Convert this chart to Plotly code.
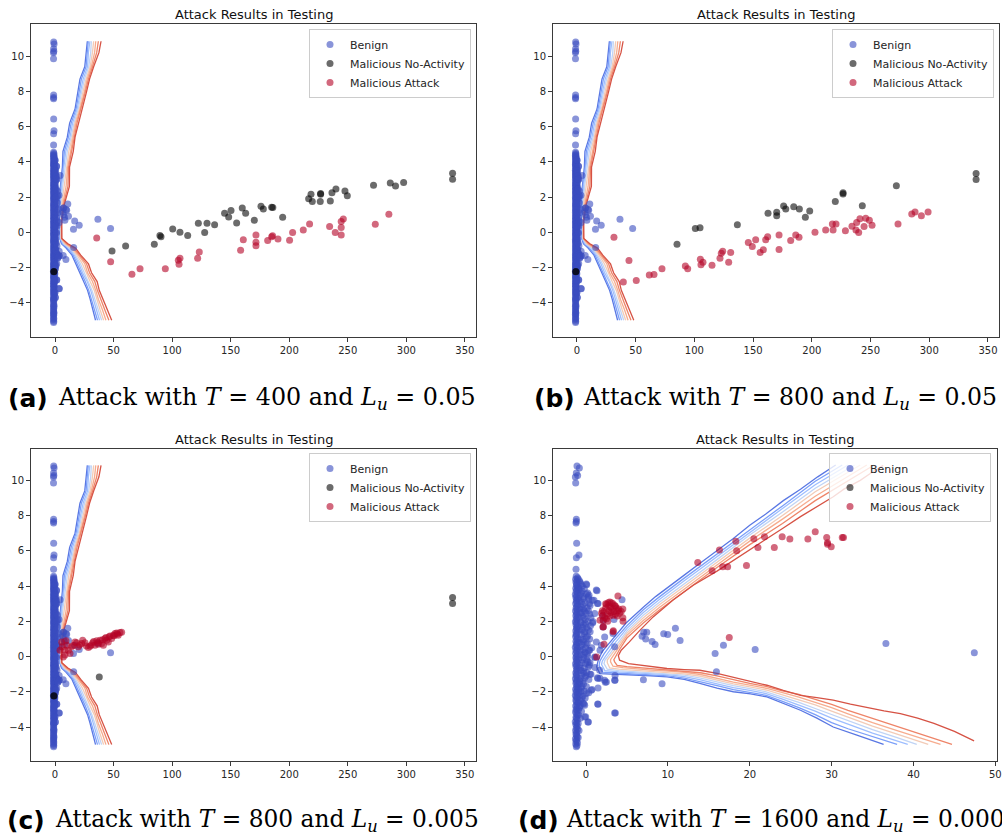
import plotly.graph_objects as go

W, H = 1002, 838

# ------------------------------------------------------------------ data
# benign test samples (identical in all four panels)
benign_core_y = [-5.12, -5.05, -4.96, -4.9, -4.81, -4.72, -4.66, -4.55, -4.47, -4.4,
                 -4.31, -4.2, -4.13, -4.05, -3.94, -3.86, -3.78, -3.7, -3.59, -3.5,
                 -3.44, -3.33, -3.26, -3.15, -3.08, -2.99, -2.9, -2.81, -2.73, -2.62,
                 -2.55, -2.47, -2.36, -2.3, -2.21, -2.12, -2.03, -1.95, -1.86, -1.77,
                 -1.7, -1.6, -1.52, -1.43, -1.35, -1.26, -1.18, -1.09, -1.0, -0.92,
                 -0.83, -0.75, -0.66, -0.57, -0.5, -0.41, -0.33, -0.24, -0.15, -0.07,
                 0.02, 0.1, 0.19, 0.28, 0.36, 0.44, 0.53, 0.61, 0.7, 0.79,
                 0.87, 0.96, 1.04, 1.13, 1.21, 1.3, 1.38, 1.47, 1.56, 1.64,
                 1.72, 1.81, 1.9, 1.98, 2.07, 2.15, 2.24, 2.32, 2.41, 2.5,
                 2.58, 2.67, 2.75, 2.84, 2.92, 3.01, 3.1, 3.18, 3.27, 3.35,
                 3.44, 3.52, 3.61, 3.7, 3.78, 3.87, 3.95, 4.04, 4.12, 4.21,
                 4.3, 4.38, 4.47, 4.55]
benign_core_x = [-1.18, -1.10, -1.25, -1.05, -1.21, -1.13, -1.29, -1.08, -1.16, -1.23,
                 -1.12, -1.27, -1.02, -1.19, -1.09, -1.24, -1.14, -1.31, -1.06, -1.17,
                 -1.22, -1.04, -1.15, -1.28, -1.11, -1.20, -1.07, -1.26, -1.13, -1.01,
                 -1.19, -1.24, -1.09, -1.16, -1.30, -1.05, -1.21, -1.12, -1.27, -1.08,
                 -1.15, -1.03, -1.23, -1.18, -1.10, -1.29, -1.06, -1.20, -1.14, -1.25,
                 -1.09, -1.17, -1.02, -1.22, -1.13, -1.28, -1.07, -1.19, -1.11, -1.24,
                 -1.16, -1.04, -1.26, -1.10, -1.21, -1.05, -1.30, -1.14, -1.18, -1.08,
                 -1.23, -1.12, -1.01, -1.27, -1.15, -1.20, -1.06, -1.25, -1.11, -1.17,
                 -1.03, -1.22, -1.13, -1.29, -1.09, -1.19, -1.05, -1.24, -1.16, -1.10,
                 -1.28, -1.07, -1.21, -1.14, -1.02, -1.26, -1.12, -1.18, -1.08, -1.23,
                 -1.15, -1.30, -1.04, -1.20, -1.11, -1.25, -1.06, -1.17, -1.13, -1.22,
                 -1.09, -1.27, -1.03, -1.19, -1.14, -1.24, -1.07, -1.21, -1.16, -1.10]
benign_halo = [(-0.8, 4.3), (-0.6, 4.1), (-0.9, 3.9), (-0.5, 3.7), (-0.7, 3.5), (-0.3, 3.3),
               (-0.8, 3.15), (-0.4, 2.95), (-0.6, 2.8), (-0.2, 2.6), (-0.7, 2.45), (-0.4, 2.3),
               (-0.1, 2.1), (-0.6, 1.95), (-0.3, 1.8), (0.1, 1.65), (-0.5, 1.5), (-0.2, 1.3),
               (0.2, 1.15), (-0.6, 1.0), (-0.3, 0.85), (0.0, 0.7), (-0.7, 0.55), (-0.4, 0.4),
               (-0.1, 0.25), (-0.6, 0.1), (-0.3, -0.05), (0.1, -0.2), (-0.5, -0.35), (-0.8, -0.5),
               (-0.2, -0.65), (-0.6, -0.8), (-0.3, -0.95), (0.0, -1.1), (-0.7, -1.25), (-0.4, -1.4),
               (-0.8, -1.55), (-0.5, -1.7), (-0.9, -1.85), (-0.6, -2.0), (-0.8, -2.2), (-0.5, -2.4),
               (-0.9, -2.6), (-0.7, -2.8), (-0.9, -3.0), (0.4, 3.0), (0.6, 2.2), (0.5, 1.4),
               (0.7, 0.5), (0.4, -0.5), (0.6, -1.0), (0.3, 2.6), (0.8, 1.9), (0.2, 3.6),
               (-0.95, 4.4), (-0.7, 4.2), (-0.45, 4.0), (-0.85, 3.8), (-0.2, 3.85), (-0.6, 3.6),
               (0.05, 3.55), (-0.35, 3.4), (-0.9, 3.3), (0.3, 3.25), (-0.55, 3.1), (-0.1, 3.05),
               (0.5, 2.9), (-0.75, 2.7), (-0.3, 2.7), (0.15, 2.75), (-0.5, 2.5), (0.0, 2.45),
               (0.45, 2.4), (-0.85, 2.25), (-0.25, 2.2), (0.25, 2.0), (-0.6, 1.9), (-0.05, 1.85),
               (0.55, 1.75), (-0.4, 1.65), (-0.85, 1.55), (0.3, 1.5), (-0.15, 1.4), (-0.55, 1.25),
               (0.05, 1.1), (0.45, 1.0), (-0.35, 0.95), (-0.8, 0.8), (0.15, 0.75), (-0.5, 0.65),
               (-0.05, 0.5), (0.35, 0.35), (-0.7, 0.3), (-0.25, 0.15), (-0.85, -0.1), (0.2, 0.0),
               (-0.45, -0.2), (-0.05, -0.4), (0.3, -0.6), (-0.7, -0.65), (-0.3, -0.85), (0.1, -0.9),
               (-0.55, -1.05), (-0.15, -1.2), (0.35, -1.3), (-0.75, -1.4), (-0.3, -1.55), (0.05, -1.7),
               (-0.6, -1.8), (-0.2, -1.95), (-0.85, -2.05), (-0.4, -2.25), (-0.1, -2.35), (-0.7, -2.5),
               (-0.35, -2.65), (-0.8, -2.9), (-0.55, -3.1), (-0.9, -3.3), (-0.7, -3.5), (-0.95, -3.8),
               (-0.85, -4.2), (-0.95, -4.6)]
benign_outliers = [(-1.10, 10.81), (-0.81, 10.70), (-1.18, 10.42), (-1.30, 10.19), (-1.02, 10.28),
                   (-1.26, 9.85), (-1.18, 7.79), (-1.18, 7.66), (-1.22, 7.58), (-1.14, 6.43),
                   (-1.18, 5.60), (-0.86, 5.77), (-1.22, 4.95), (0.08, 4.08), (1.34, 3.74),
                   (0.98, 3.19), (1.39, 3.01), (0.29, 3.38), (4.40, 3.23), (3.42, 2.10),
                   (2.12, 2.06), (7.05, 1.38), (7.42, 1.38), (6.85, 1.15), (7.29, 1.00),
                   (8.07, 0.85), (8.44, 0.68), (9.49, 1.29), (9.98, 1.25), (10.92, 1.61),
                   (11.49, 0.91), (15.77, 0.17), (16.79, 0.64), (20.66, 0.40), (36.63, 0.74),
                   (47.43, 0.21), (15.93, -0.87), (7.01, -1.32), (9.29, -1.55), (2.36, -1.46),
                   (3.55, -1.34), (3.55, -1.08), (1.71, -1.23), (1.39, -1.21), (1.47, -1.78),
                   (0.73, -1.87), (0.33, -2.06), (1.43, -2.70), (-0.24, -2.70), (3.59, -3.21),
                   (-0.04, -3.42), (0.29, -3.71), (1.71, 0.36), (1.10, -0.06), (0.49, -0.36),
                   (1.10, -0.62), (0.49, -1.0), (0.16, 0.17), (0.04, 4.11), (1.26, 3.77),
                   (0.37, 3.48), (0.77, 3.2), (1.47, 3.01), (1.06, 2.44), (2.08, 2.35),
                   (0.86, 1.97), (2.08, 1.68), (2.28, 1.11), (1.26, 0.83), (1.87, 0.64),
                   (0.45, 0.36), (1.06, -0.02), (0.24, -0.31), (1.67, -0.78), (1.47, -1.25),
                   (2.28, -1.35), (3.5, -1.35), (2.49, -1.44), (0.65, -1.91), (0.04, -2.10),
                   (1.47, -2.71), (-0.16, -2.77), (3.5, -3.2), (-0.16, -3.43), (0.24, -3.71),
                   (3.3, 1.31), (3.5, 0.55)]

# malicious no-activity samples
noact_a = [(339.5, 3.35), (339.5, 3.01), (297.7, 2.82), (290.8, 2.63), (286.3, 2.80), (272.0, 2.67),
           (249.6, 2.08), (247.6, 2.35), (239.9, 2.46), (236.5, 2.25), (235.1, 1.78), (226.8, 2.2),
           (226.8, 2.16), (226.5, 1.74), (219.7, 1.74), (218.6, 2.16), (216.6, 1.91), (194.4, 0.85),
           (186.0, 1.40), (185.0, 1.42), (177.9, 1.32), (175.9, 1.48), (170.2, 0.68), (162.8, 1.08),
           (159.9, 1.38), (155.1, 0.53), (150.3, 1.23), (148.3, 0.87), (144.8, 1.08), (136.3, 0.42),
           (129.8, 0.51), (127.8, -0.02), (122.4, 0.51), (113.3, -0.19), (106.7, 0.0), (100.5, 0.19),
           (90.5, -0.25), (89.6, -0.19), (84.8, -0.68), (60.3, -0.78), (48.7, -1.06),
           (-1.0, -2.23), (-0.9, -2.25)]
noact_b = [(339.9, 3.34), (339.9, 3.0), (272.0, 2.64), (226.6, 2.17), (226.6, 2.25), (220.0, 1.74),
           (243.0, 1.51), (198.2, 1.21), (194.5, 0.85), (189.4, 1.32), (184.6, 1.45), (177.8, 1.32),
           (176.0, 1.49), (170.1, 1.13), (170.1, 0.94), (162.7, 1.08), (136.6, 0.42), (104.8, 0.25),
           (100.8, 0.21), (85.2, -0.68), (-1.0, -2.23), (-0.9, -2.25)]
noact_c = [(339.5, 3.35), (339.5, 3.01), (37.8, -1.16), (-1.0, -2.22), (-0.9, -2.24)]
noact_d = [(340.0, 3.35), (340.0, 3.01)]

# malicious attack samples
attack_a = [(285.1, 1.02), (273.5, 0.45), (246.2, 0.76), (244.4, 0.61), (244.4, 0.27), (244.4, -0.15),
            (239.3, -0.02), (234.5, 0.32), (217.4, 0.47), (212.0, 0.13), (202.9, -0.02), (200.3, -0.45),
            (190.4, -0.38), (185.8, -0.2), (185.0, -0.26), (181.6, -0.47), (171.6, -0.15), (171.6, -0.57),
            (171.6, -0.76), (160.8, -0.42), (158.5, -1.02), (123.2, -1.12), (121.8, -1.48), (106.7, -1.48),
            (105.9, -1.82), (105.3, -1.59), (94.2, -2.08), (72.6, -2.08), (65.7, -2.39), (47.5, -1.68),
            (35.6, -0.32)]
attack_b = [(299.0, 1.15), (293.3, 0.94), (287.9, 1.15), (285.1, 1.04), (273.4, 0.47), (251.3, 0.40),
            (249.0, 0.68), (245.9, 0.79), (244.5, 0.32), (241.0, 0.77), (239.9, -0.02), (237.6, 0.13),
            (238.2, 0.55), (234.2, 0.34), (228.6, 0.08), (220.6, 0.47), (217.5, 0.47), (218.1, 0.13),
            (211.8, 0.13), (202.7, 0.0), (189.1, -0.28), (186.3, -0.15), (182.0, -0.47), (172.1, -0.15),
            (172.1, -0.98), (162.4, -0.25), (160.7, -0.42), (158.7, -1.0), (156.0, -1.15), (152.2, -0.43),
            (149.3, -0.81), (145.9, -0.58), (130.9, -1.15), (129.2, -1.70), (124.1, -1.08), (122.9, -1.19),
            (121.8, -1.47), (115.0, -1.87), (107.3, -1.70), (105.6, -1.85), (105.1, -1.53), (94.3, -2.08),
            (92.3, -1.92), (72.4, -2.08), (65.6, -2.40), (61.6, -2.43), (50.5, -2.74), (39.5, -2.83),
            (44.3, -1.60), (31.5, -0.28)]
attack_c = [(7.1, -0.02), (8.5, 0.36), (10.0, 0.64), (12.8, 0.17), (14.2, 0.55), (17.1, 0.83),
            (19.9, 0.55), (22.8, 0.74), (23.6, 0.93), (28.5, 0.51), (32.2, 0.78), (34.1, 0.64),
            (35.6, 0.89), (38.4, 0.93), (39.8, 0.74), (42.7, 1.02), (44.1, 0.93), (47.0, 1.16),
            (48.4, 1.02), (49.8, 1.21), (51.2, 1.31), (52.6, 1.34), (55.5, 1.36), (56.9, 1.38),
            (54.0, 1.21), (45.5, 0.83), (41.3, 0.64), (37.0, 0.70), (29.9, 0.59), (4.3, 0.36),
            (5.7, 0.83), (11.4, 0.36), (18.5, 0.78), (25.6, 0.78), (8.5, 0.08), (6.2, 0.55),
            (9.3, 0.9), (15.5, 0.62), (21.0, 0.66), (26.8, 0.6), (33.0, 0.85), (36.5, 0.8),
            (40.5, 0.95), (43.5, 1.08), (46.2, 1.12), (50.5, 1.18), (53.3, 1.28), (31.0, 0.66)]
attack_d = [(2.0, 2.3), (2.2, 2.55), (2.4, 2.75), (2.5, 2.95), (2.7, 3.05), (2.9, 3.1), (3.1, 3.05),
            (3.3, 3.0), (3.5, 2.9), (3.7, 2.75), (3.9, 2.6), (4.1, 2.45), (2.3, 2.2), (2.6, 2.4),
            (2.8, 2.6), (3.0, 2.8), (3.2, 2.7), (3.4, 2.55), (3.6, 2.4), (3.8, 2.3), (2.1, 2.05),
            (2.5, 2.15), (2.9, 2.3), (3.3, 2.35), (2.0, 2.6), (2.4, 3.0), (2.8, 2.85), (3.6, 2.85),
            (4.0, 2.7), (4.3, 2.55), (4.5, 2.7), (3.9, 3.43), (4.52, 2.0), (1.71, 2.06), (2.12, 1.69),
            (3.34, 1.46), (2.2, 0.70), (1.3, -0.02), (3.3, 1.4), (2.08, 1.68), (4.5, 2.2), (1.9, 2.45),
            (3.05, 2.5), (2.65, 2.0),
            (31.3, 6.76), (31.45, 6.76), (29.95, 6.23), (29.5, 6.46), (29.5, 6.38), (29.4, 6.76),
            (28.0, 7.08), (27.1, 6.67), (24.9, 6.67), (23.96, 6.80), (23.0, 6.19), (21.8, 6.80),
            (21.0, 6.19), (20.5, 6.69), (19.6, 5.17), (18.4, 6.0), (18.3, 6.55), (17.3, 5.09),
            (16.7, 5.09), (16.3, 6.04), (15.4, 4.87), (13.65, 5.34), (17.5, 1.08)]

# decision-boundary contour lines, panels (a)-(c), sampled at shared y levels
contour_abc_y = [10.85, 10.2, 9.4, 8.7, 8.0, 7.0, 6.2, 5.4, 4.6, 3.7, 2.6, 1.6, 0.6, -0.35,
                 -0.65, -0.9, -1.3, -1.8, -2.3, -2.8, -3.3, -3.8, -4.4, -5.0]
contour_abc_x = [
    [27.6, 26.8, 25.4, 21.3, 19.8, 17.1, 12.5, 10.5, 6.8, 6.3, 4.6, 3.8, 3.8, 4.0, 5.5, 9.5, 14.5, 17.8, 21.0, 24.5, 27.8, 30.0, 32.0, 34.6],
    [28.4, 27.5, 26.5, 22.5, 20.5, 18.0, 13.8, 11.5, 8.0, 7.0, 5.0, 4.2, 4.1, 4.2, 6.2, 10.5, 15.5, 19.0, 22.3, 25.8, 28.8, 31.2, 33.5, 36.3],
    [29.8, 28.5, 27.8, 24.0, 21.8, 19.0, 15.0, 12.8, 9.2, 7.8, 5.6, 4.8, 4.5, 4.6, 7.0, 12.0, 16.5, 20.5, 23.5, 27.5, 30.5, 32.8, 35.0, 38.0],
    [31.0, 30.5, 28.8, 25.2, 22.8, 19.8, 16.2, 13.8, 10.5, 8.8, 6.5, 5.3, 4.9, 5.0, 7.6, 12.8, 17.5, 21.8, 25.0, 28.5, 31.5, 34.0, 36.8, 39.8],
    [33.0, 32.0, 30.0, 26.5, 24.0, 20.8, 17.0, 14.8, 11.8, 9.8, 7.8, 5.8, 5.2, 5.3, 8.4, 13.8, 18.8, 23.5, 26.5, 30.0, 33.5, 35.5, 38.5, 41.5],
    [34.8, 33.8, 31.0, 27.5, 25.2, 21.5, 17.8, 15.6, 13.0, 10.8, 9.5, 6.6, 5.4, 5.5, 9.3, 14.8, 20.0, 25.5, 27.8, 32.0, 34.8, 37.0, 40.5, 43.5],
    [37.0, 35.6, 32.0, 28.5, 26.0, 22.2, 18.8, 16.5, 14.3, 11.6, 11.0, 7.3, 5.6, 5.7, 10.2, 16.0, 21.0, 27.0, 29.5, 34.0, 36.2, 38.8, 42.5, 46.0],
    [39.3, 37.5, 33.0, 29.5, 27.0, 23.0, 19.9, 17.1, 15.6, 12.4, 12.3, 8.0, 5.7, 5.8, 11.0, 17.5, 22.0, 28.6, 31.2, 36.0, 37.8, 40.8, 44.8, 48.4],
]

# decision-boundary contour lines, panel (d)
contour_d = [
    [(30.5, 10.87), (28.3, 10.2), (26.2, 9.5), (24.1, 8.85), (22.0, 8.1), (20.0, 7.45), (18.0, 6.7),
     (15.9, 5.95), (13.8, 5.25), (12.0, 4.62), (10.2, 4.0), (8.5, 3.4), (7.0, 2.8), (4.9, 1.9),
     (3.1, 0.9), (2.0, 0.3), (1.5, -0.2), (1.3, -0.59), (1.7, -0.97), (3.6, -1.0), (5.8, -1.06),
     (7.9, -1.09), (9.9, -1.16), (12.0, -1.3), (13.9, -1.53), (16.0, -1.8), (18.0, -2.0),
     (20.1, -2.12), (22.1, -2.29), (24.2, -2.7), (26.2, -3.05), (28.2, -3.5), (30.2, -4.0),
     (33.0, -4.45), (36.35, -4.98)],
    [(31.3, 10.87), (28.0, 9.95), (24.0, 8.55), (20.0, 7.2), (16.0, 5.8), (12.0, 4.45), (9.0, 3.4),
     (7.0, 2.65), (5.0, 1.75), (3.4, 0.9), (2.2, 0.15), (1.7, -0.25), (1.6, -0.5), (2.0, -0.88),
     (4.0, -0.95), (6.0, -1.0), (8.0, -1.05), (10.0, -1.1), (12.0, -1.22), (14.0, -1.42),
     (16.0, -1.65), (18.0, -1.88), (20.0, -2.02), (22.0, -2.2), (24.0, -2.55), (26.0, -2.9),
     (28.0, -3.3), (30.0, -3.75), (32.0, -4.1), (35.0, -4.55), (38.0, -4.98)],
    [(32.0, 10.87), (28.0, 9.75), (24.0, 8.4), (20.0, 7.05), (16.0, 5.65), (12.0, 4.3), (9.0, 3.25),
     (7.0, 2.5), (5.0, 1.6), (3.6, 0.8), (2.5, 0.1), (2.0, -0.25), (1.9, -0.45), (2.3, -0.8),
     (4.0, -0.87), (6.0, -0.93), (8.0, -0.98), (10.0, -1.03), (12.0, -1.14), (14.0, -1.32),
     (16.0, -1.55), (18.0, -1.76), (20.0, -1.92), (22.0, -2.1), (24.0, -2.42), (26.0, -2.75),
     (28.0, -3.1), (30.0, -3.5), (32.0, -3.85), (35.0, -4.35), (39.3, -4.98)],
    [(32.8, 10.87), (28.0, 9.55), (24.0, 8.2), (20.0, 6.9), (16.0, 5.5), (12.0, 4.15), (9.0, 3.1),
     (7.0, 2.35), (5.0, 1.45), (3.8, 0.7), (2.8, 0.05), (2.3, -0.22), (2.2, -0.4), (2.6, -0.72),
     (4.0, -0.8), (6.0, -0.86), (8.0, -0.91), (10.0, -0.96), (12.0, -1.06), (14.0, -1.22),
     (16.0, -1.45), (18.0, -1.65), (20.0, -1.82), (22.0, -2.0), (24.0, -2.3), (26.0, -2.6),
     (28.0, -2.95), (30.0, -3.3), (32.0, -3.65), (35.0, -4.15), (38.0, -4.6), (40.4, -4.98)],
    [(33.5, 10.87), (28.0, 9.35), (24.0, 8.0), (20.0, 6.72), (16.0, 5.35), (12.0, 4.0), (9.0, 2.95),
     (7.0, 2.2), (5.0, 1.32), (3.9, 0.6), (3.0, 0.0), (2.6, -0.2), (2.6, -0.35), (2.9, -0.65),
     (4.0, -0.72), (6.0, -0.78), (8.0, -0.84), (10.0, -0.9), (12.0, -0.98), (14.0, -1.12),
     (16.0, -1.35), (18.0, -1.55), (20.0, -1.72), (22.0, -1.9), (24.0, -2.18), (26.0, -2.45),
     (28.0, -2.75), (30.0, -3.1), (32.0, -3.45), (35.0, -3.95), (38.0, -4.4), (41.8, -4.98)],
    [(34.3, 10.87), (28.0, 9.1), (24.0, 7.8), (20.0, 6.55), (16.0, 5.2), (12.0, 3.85), (9.0, 2.8),
     (7.0, 2.05), (5.0, 1.2), (4.0, 0.5), (3.3, -0.02), (3.0, -0.18), (3.0, -0.3), (3.3, -0.55),
     (4.5, -0.63), (6.0, -0.7), (8.0, -0.77), (10.0, -0.83), (12.0, -0.9), (14.0, -1.02),
     (16.0, -1.25), (18.0, -1.45), (20.0, -1.62), (22.0, -1.8), (24.0, -2.05), (26.0, -2.3),
     (28.0, -2.6), (30.0, -2.9), (32.0, -3.25), (35.0, -3.75), (38.0, -4.2), (43.3, -4.98)],
    [(35.2, 10.87), (28.0, 8.85), (24.0, 7.55), (20.0, 6.35), (16.0, 5.05), (12.0, 3.7), (9.0, 2.65),
     (7.0, 1.9), (5.0, 1.05), (4.1, 0.4), (3.6, -0.03), (3.4, -0.18), (3.5, -0.3), (3.8, -0.5),
     (5.0, -0.57), (6.5, -0.63), (8.0, -0.7), (10.0, -0.76), (12.0, -0.82), (14.0, -0.92),
     (16.0, -1.1), (18.0, -1.32), (20.0, -1.52), (22.0, -1.7), (24.0, -1.95), (26.0, -2.15),
     (28.0, -2.42), (30.0, -2.72), (32.0, -3.05), (35.0, -3.5), (38.0, -3.95), (41.0, -4.4),
     (44.7, -4.98)],
    [(36.3, 10.85), (34.9, 10.45), (33.5, 10.0), (31.5, 9.5), (30.2, 9.07), (28.1, 8.5), (26.2, 7.94),
     (24.1, 7.3), (22.1, 6.7), (20.0, 6.1), (18.0, 5.45), (16.0, 4.85), (13.1, 4.05), (10.6, 3.2),
     (8.2, 2.25), (6.6, 1.5), (5.3, 0.83), (4.3, 0.36), (3.95, 0.05), (4.1, -0.21), (5.2, -0.4),
     (6.6, -0.49), (8.3, -0.6), (9.9, -0.68), (12.0, -0.74), (13.9, -0.78), (16.0, -0.95),
     (18.0, -1.16), (20.0, -1.37), (22.1, -1.63), (24.1, -1.92), (26.2, -2.2), (28.2, -2.33),
     (30.2, -2.48), (32.3, -2.7), (34.3, -2.9), (36.4, -3.08), (38.4, -3.24), (40.5, -3.5),
     (42.5, -3.8), (45.0, -4.25), (47.4, -4.79)],
]

legend_names = ["Benign", "Malicious No-Activity", "Malicious Attack"]
panel_title = "Attack Results in Testing"
captions = [("(a)", "Attack with <i>T</i> = 400 and <i>L<sub>u</sub></i> = 0.05"),
            ("(b)", "Attack with <i>T</i> = 800 and <i>L<sub>u</sub></i> = 0.05"),
            ("(c)", "Attack with <i>T</i> = 800 and <i>L<sub>u</sub></i> = 0.005"),
            ("(d)", "Attack with <i>T</i> = 1600 and <i>L<sub>u</sub></i> = 0.0005")]
x_ticks_abc = [0, 50, 100, 150, 200, 250, 300, 350]
x_ticks_d = [0, 10, 20, 30, 40, 50]
y_ticks = [-4, -2, 0, 2, 4, 6, 8, 10]

# ------------------------------------------------------------------ style
line_colors = ['#5977e3', '#7b9ff9', '#9ebeff', '#c0d4f5', '#f2cbb7', '#f7ac8e', '#ee8468', '#d65244']
c_benign, c_noact, c_attack = '#3b4cc0', '#000000', '#b40426'


def px_x(p):
    return p / W


def px_y(p):
    return 1 - p / H


# panel boxes in pixels: (left, right, top, bottom)
boxes = [(31, 476, 24, 337), (553, 999, 24, 337), (31, 476, 449, 761), (553, 997, 449, 761)]
x_ranges = [[-20.5, 359.5], [-20.4, 359.4], [-20.5, 359.5], [-4.03, 50.2]]
y_ranges = [[-5.95, 11.83], [-5.95, 11.83], [-5.93, 11.78], [-5.93, 11.78]]
legend_boxes = [(471, 29), (994, 29), (471, 453), (991, 453)]  # right, top
caption_pos = [(6, 56, 398), (532, 581, 398), (5, 53, 820), (516, 564, 820)]
caption_sizes = [23.8, 23.6, 23.3, 23.3]

benign_x = [x for x, _ in zip(benign_core_x, benign_core_y)] + [p[0] for p in benign_halo] + [p[0] for p in benign_outliers]
benign_y = [y for _, y in zip(benign_core_x, benign_core_y)] + [p[1] for p in benign_halo] + [p[1] for p in benign_outliers]

noacts = [noact_a, noact_b, noact_c, noact_d]
attacks = [attack_a, attack_b, attack_c, attack_d]

fig = go.Figure()

for i in range(4):
    sx = 'x' if i == 0 else f'x{i+1}'
    sy = 'y' if i == 0 else f'y{i+1}'
    lg = 'legend' if i == 0 else f'legend{i+1}'
    if i < 3:
        for k, xs in enumerate(contour_abc_x):
            fig.add_trace(go.Scatter(x=xs, y=contour_abc_y, mode='lines', xaxis=sx, yaxis=sy,
                                     line=dict(color=line_colors[k], width=1.3), showlegend=False,
                                     hoverinfo='skip'))
    else:
        for k, pts in enumerate(contour_d):
            fig.add_trace(go.Scatter(x=[p[0] for p in pts], y=[p[1] for p in pts], mode='lines',
                                     xaxis=sx, yaxis=sy, line=dict(color=line_colors[k], width=1.3),
                                     showlegend=False, hoverinfo='skip'))
    mk = dict(size=7, opacity=0.6, line=dict(width=0))
    fig.add_trace(go.Scatter(x=benign_x, y=benign_y, mode='markers', name=legend_names[0],
                             xaxis=sx, yaxis=sy, legend=lg, marker=dict(color=c_benign, **mk)))
    fig.add_trace(go.Scatter(x=[p[0] for p in noacts[i]], y=[p[1] for p in noacts[i]], mode='markers',
                             name=legend_names[1], xaxis=sx, yaxis=sy, legend=lg,
                             marker=dict(color=c_noact, size=7, opacity=0.58, line=dict(width=0))))
    fig.add_trace(go.Scatter(x=[p[0] for p in attacks[i]], y=[p[1] for p in attacks[i]], mode='markers',
                             name=legend_names[2], xaxis=sx, yaxis=sy, legend=lg,
                             marker=dict(color=c_attack, **mk)))

layout = dict(width=W, height=H, margin=dict(l=0, r=0, t=0, b=0, autoexpand=False),
              paper_bgcolor='white', plot_bgcolor='white',
              font=dict(family='DejaVu Sans', size=10, color='#262626'), showlegend=True)
annotations = []
for i in range(4):
    l, r, t, b = boxes[i]
    xa = 'xaxis' if i == 0 else f'xaxis{i+1}'
    ya = 'yaxis' if i == 0 else f'yaxis{i+1}'
    ya_ref = 'y' if i == 0 else f'y{i+1}'
    xa_ref = 'x' if i == 0 else f'x{i+1}'
    common = dict(showline=True, mirror=True, linecolor='#3a3a3a', linewidth=1, ticks='outside',
                  ticklen=4, tickwidth=0.8, tickcolor='#3a3a3a', showgrid=False, zeroline=False,
                  tickfont=dict(size=10, color='#262626'), fixedrange=True)
    layout[xa] = dict(domain=[px_x(l), px_x(r)], range=x_ranges[i], anchor=ya_ref,
                      tickvals=x_ticks_d if i == 3 else x_ticks_abc, **common)
    layout[ya] = dict(domain=[px_y(b), px_y(t)], range=y_ranges[i], anchor=xa_ref,
                      tickvals=y_ticks, **common)
    lg = 'legend' if i == 0 else f'legend{i+1}'
    lr, lt = legend_boxes[i]
    layout[lg] = dict(x=px_x(lr), xanchor='right', y=px_y(lt), yanchor='top',
                      bgcolor='rgba(255,255,255,0.8)', bordercolor='#cccccc', borderwidth=1,
                      font=dict(size=11, color='#262626', family='DejaVu Sans'), itemsizing='trace')
    annotations.append(dict(text=panel_title, x=px_x((l + r) / 2), y=px_y(t - 10), xref='paper',
                            yref='paper', showarrow=False, xanchor='center', yanchor='middle',
                            font=dict(size=13, color='#111111', family='DejaVu Sans')))
    lx, tx, cy = caption_pos[i]
    annotations.append(dict(text='<b>' + captions[i][0] + '</b>', x=px_x(lx), y=px_y(cy), xref='paper',
                            yref='paper', showarrow=False, xanchor='left', yanchor='middle',
                            font=dict(size=25, color='#000000', family='DejaVu Sans')))
    annotations.append(dict(text=captions[i][1], x=px_x(tx), y=px_y(cy), xref='paper',
                            yref='paper', showarrow=False, xanchor='left', yanchor='middle',
                            font=dict(size=caption_sizes[i], color='#000000', family='DejaVu Serif')))
layout['annotations'] = annotations
fig.update_layout(**layout)

fig.write_html("out.html", config={'displayModeBar': False},
               post_script="document.body.style.margin='0px';document.body.style.padding='0px';")
